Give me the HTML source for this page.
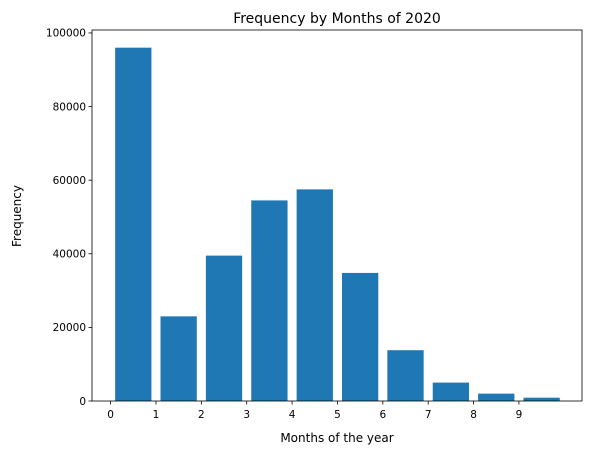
<!DOCTYPE html>
<html><head><meta charset="utf-8"><style>
body{margin:0;background:#fff}
svg{display:block;font-family:"DejaVu Sans","Liberation Sans",sans-serif}
</style></head><body>
<svg id="chart" width="597" height="455">
<text x="337" y="23" font-size="14" text-anchor="middle" fill="#000">Frequency by Months of 2020</text>
<text x="337" y="442" font-size="12" text-anchor="middle">Months of the year</text>
<text transform="translate(21,216) rotate(-90)" font-size="12" text-anchor="middle">Frequency</text>
<g id="bars"></g><g id="axes"></g>
</svg>
<script>
const categories=[0.5,1.5,2.5,3.5,4.5,5.5,6.5,7.5,8.5,9.5];
const values=[96000,23000,39500,54500,57500,34800,13800,5000,2000,900];
const xTicks=[0,1,2,3,4,5,6,7,8,9];
const yTicks=[0,20000,40000,60000,80000,100000];
const L=92,R=582,T=30,B=401;
const x0=-0.41,x1=10.39,yMax=100800;
const sx=v=>L+(v-x0)/(x1-x0)*(R-L);
const sy=v=>B-v/yMax*(B-T);
const ns="http://www.w3.org/2000/svg";
const bars=document.getElementById('bars'),axes=document.getElementById('axes');
function mk(tag,at,parent){const e=document.createElementNS(ns,tag);for(const k in at)e.setAttribute(k,at[k]);parent.appendChild(e);return e;}
categories.forEach((c,i)=>{
 const r=mk('rect',{x:sx(c-0.4),y:sy(values[i]),width:sx(c+0.4)-sx(c-0.4),height:B-sy(values[i]),fill:'#1f77b4'},bars);
 
 
});
const frame=mk('rect',{x:L,y:T,width:R-L,height:B-T,fill:'none',stroke:'#000','stroke-width':0.8},axes);


xTicks.forEach(t=>{
 const x=sx(t);
 mk('line',{x1:x,x2:x,y1:B,y2:B+3.5,stroke:'#000','stroke-width':0.8},axes);
 const tx=mk('text',{x:x,y:B+17,'font-size':10.5,'text-anchor':'middle'},axes);
 tx.textContent=t;
 
 
});
yTicks.forEach(t=>{
 const y=sy(t);
 mk('line',{x1:L-3.5,x2:L,y1:y,y2:y,stroke:'#000','stroke-width':0.8},axes);
 const tx=mk('text',{x:L-6,y:y+3.8,'font-size':10.5,'text-anchor':'end'},axes);
 tx.textContent=t;
 
 
});
</script>
</body></html>
